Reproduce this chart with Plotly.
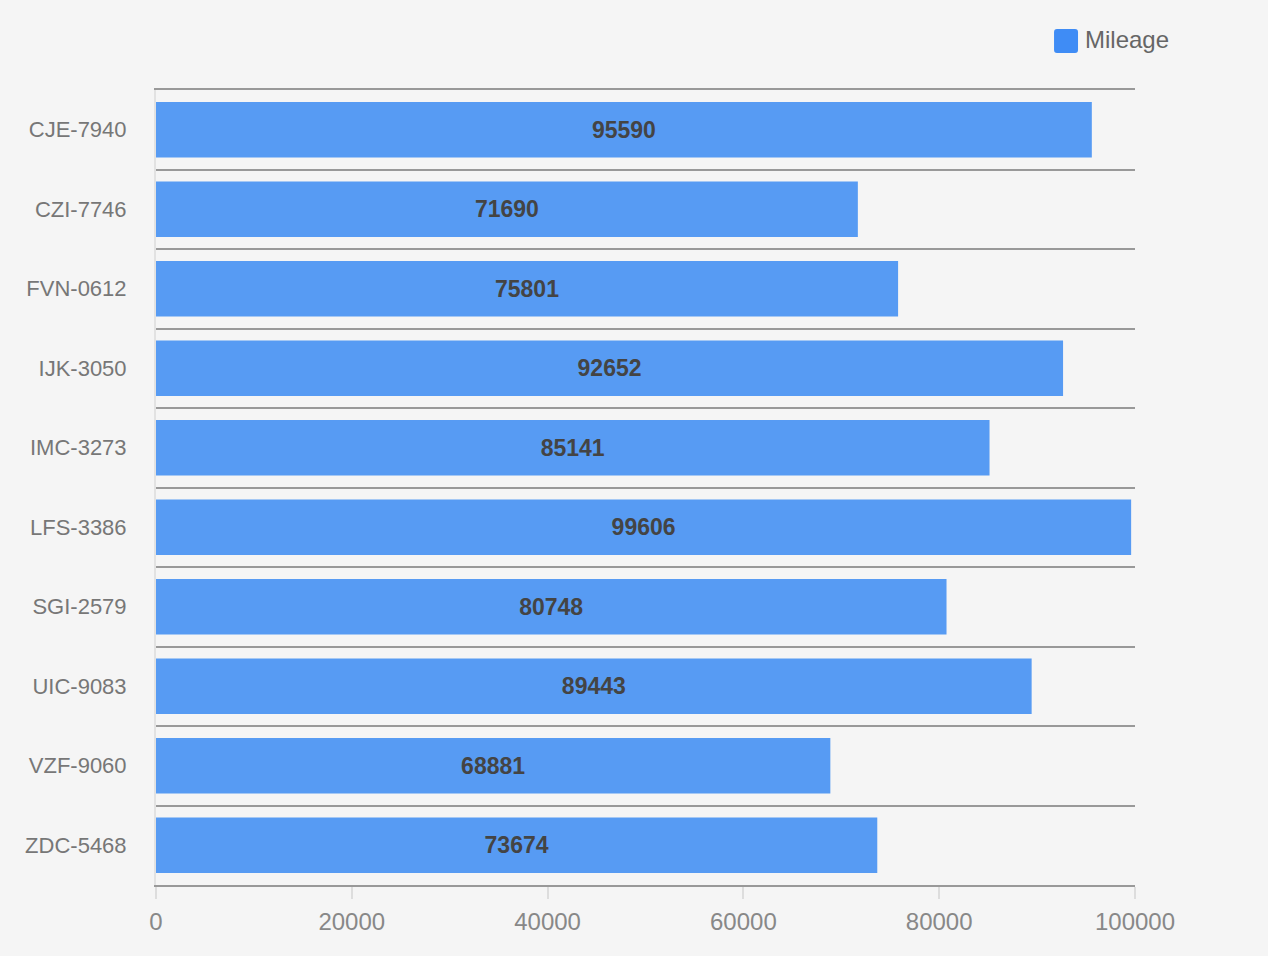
import plotly.graph_objects as go

categories = ["CJE-7940", "CZI-7746", "FVN-0612", "IJK-3050", "IMC-3273",
              "LFS-3386", "SGI-2579", "UIC-9083", "VZF-9060", "ZDC-5468"]
mileage = [95590, 71690, 75801, 92652, 85141, 99606, 80748, 89443, 68881, 73674]
series_name = "Mileage"
x_ticks = [0, 20000, 40000, 60000, 80000, 100000]

FONT = "Helvetica Neue, Helvetica, Arial, Liberation Sans, sans-serif"
BAR = "#579bf3"
BG = "#f5f5f5"

fig = go.Figure()
fig.add_trace(go.Bar(
    y=categories, x=mileage, orientation="h", name=series_name,
    marker=dict(color=BAR, line=dict(width=0)),
    texttemplate="%{x:.0f}", textposition="inside", insidetextanchor="middle",
    textfont=dict(family=FONT, size=23, color="#444444", weight="bold"),
    constraintext="none",
    showlegend=False,
    hoverinfo="skip",
))

fig.update_layout(
    width=1268, height=956,
    paper_bgcolor=BG, plot_bgcolor=BG,
    margin=dict(l=156, r=133, t=90, b=71),
    bargap=0.3,
    font=dict(family=FONT),
    xaxis=dict(
        range=[0, 100000], tickvals=x_ticks, ticktext=[str(v) for v in x_ticks],
        showgrid=False, zeroline=False,
        showline=True, mirror=True, linecolor="#999999", linewidth=2,
        ticks="outside", ticklen=12, tickwidth=2, tickcolor="#dddddd",
        tickfont=dict(size=24, color="#888888"),
        ticklabelstandoff=2,
    ),
    yaxis=dict(
        type="category", categoryorder="array", categoryarray=categories,
        autorange="reversed",
        tickson="boundaries", ticks="", showgrid=True,
        gridcolor="#999999", gridwidth=2,
        showline=True, linecolor="#e2e2e2", linewidth=2,
        zeroline=False,
        tickfont=dict(size=22, color="#777777"),
        ticklabelstandoff=23,
    ),
)

# legend drawn to match the reference's larger rounded swatch
x0, x1, y0, y1 = 0.9173, 0.9418, 1.0465, 1.0767
rx, ry = 0.003, 0.004
path = (f"M {x0+rx} {y1} L {x1-rx} {y1} Q {x1} {y1} {x1} {y1-ry} "
        f"L {x1} {y0+ry} Q {x1} {y0} {x1-rx} {y0} L {x0+rx} {y0} "
        f"Q {x0} {y0} {x0} {y0+ry} L {x0} {y1-ry} Q {x0} {y1} {x0+rx} {y1} Z")
fig.add_shape(type="path", xref="paper", yref="paper", path=path,
              fillcolor="#3f8cf5", line=dict(width=0))
fig.add_annotation(xref="paper", yref="paper", x=0.9465, y=1.0629,
                   xanchor="left", yanchor="middle", showarrow=False,
                   text=series_name, font=dict(size=24, color="#666666", family=FONT))

fig.write_html(
    "out.html",
    config={"displayModeBar": False},
    post_script="document.body.style.margin='0';document.body.style.background='#f5f5f5';",
)
